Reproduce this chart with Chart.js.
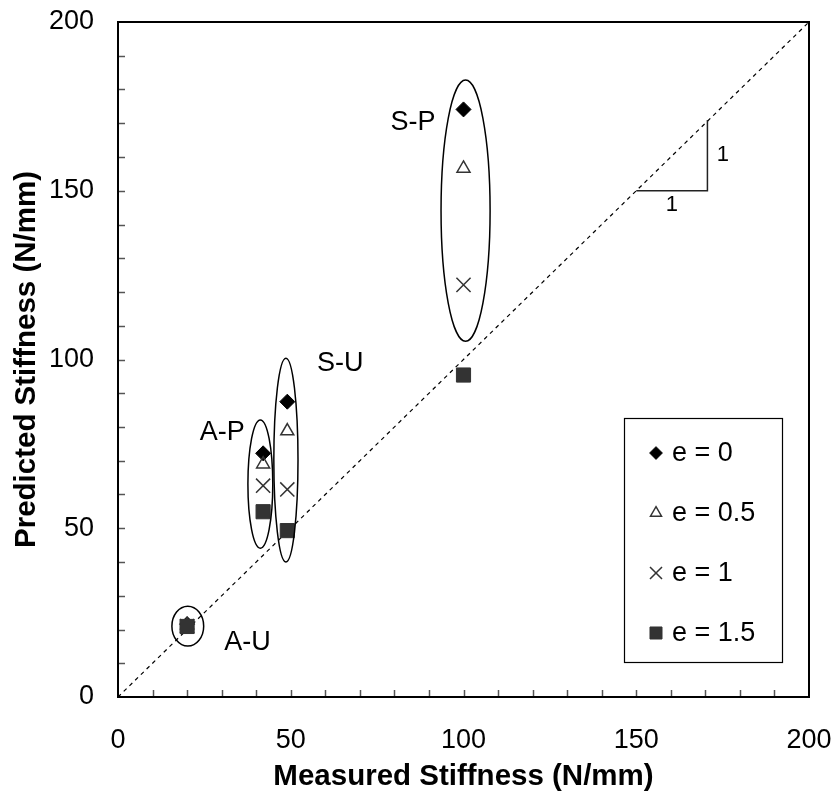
<!DOCTYPE html>
<html>
<head>
<meta charset="utf-8">
<script src="https://cdn.jsdelivr.net/npm/chart.js@4/dist/chart.umd.min.js"></script>
<style>
html,body{margin:0;padding:0;background:#fff;}
#wrap{width:838px;height:799px;position:relative;}
</style>
</head>
<body>
<div id="wrap"><canvas id="c"></canvas></div>
<script>
// ---- data ----
const groups   = ['A-U', 'A-P', 'S-U', 'S-P'];
const measured = [20, 42, 49, 100];
const predE0   = [21.6, 72.2, 87.5, 174.1];
const predE05  = [21.3, 69.0, 78.8, 156.6];
const predE1   = [21.0, 62.6, 61.5, 122.1];
const predE15  = [20.9, 54.9, 49.3, 95.4];
const seriesLabels = ['e = 0', 'e = 0.5', 'e = 1', 'e = 1.5'];
const axisTicks = [0, 50, 100, 150, 200];
const xTitle = 'Measured Stiffness (N/mm)';
const yTitle = 'Predicted Stiffness (N/mm)';
const slopeLabels = ['1', '1'];

const FONT = "'Liberation Sans', Arial, sans-serif";
const pts = arr => measured.map((m, i) => ({x: m, y: arr[i]}));

const styles = [
  {pointStyle: 'rectRot', radius: 7.5, bg: '#000', bc: '#000', bw: 1},
  {pointStyle: 'triangle', radius: 7.5, bg: 'rgba(0,0,0,0)', bc: '#333', bw: 1.5},
  {pointStyle: 'crossRot', radius: 10, bg: 'rgba(0,0,0,0)', bc: '#333', bw: 1.5},
  {pointStyle: 'rect', radius: 10, bg: '#333', bc: '#333', bw: 1}
];
const series = [predE0, predE05, predE1, predE15];

const datasets = series.map((s, i) => ({
  type: 'scatter',
  label: seriesLabels[i],
  data: pts(s),
  pointStyle: styles[i].pointStyle,
  pointRadius: styles[i].radius,
  pointBackgroundColor: styles[i].bg,
  pointBorderColor: styles[i].bc,
  pointBorderWidth: styles[i].bw,
  showLine: false,
  order: 4 - i
}));
datasets.push({
  type: 'line',
  label: '1:1',
  data: [{x: axisTicks[0], y: axisTicks[0]}, {x: axisTicks[axisTicks.length-1], y: axisTicks[axisTicks.length-1]}],
  borderColor: '#000',
  borderWidth: 1.2,
  borderDash: [4, 4],
  pointRadius: 0,
  fill: false,
  order: 10
});

// annotation definitions (data coordinates)
const ellipses = [
  {cx: 20.2, cy: 21.0, rx: 4.6, ry: 5.9},
  {cx: 41.2, cy: 63.1, rx: 3.6, ry: 19.0},
  {cx: 48.6, cy: 70.2, rx: 3.5, ry: 30.2},
  {cx: 100.6, cy: 144.1, rx: 7.1, ry: 38.7}
];
const groupLabelPos = [
  {x: 37.5, y: 16.0},
  {x: 30.2, y: 78.5},
  {x: 64.3, y: 98.7},
  {x: 85.4, y: 170.1}
];

const annot = {
  id: 'annot',
  afterDatasetsDraw(chart) {
    const {ctx, chartArea: a, scales: {x, y}} = chart;
    ctx.save();
    // ellipses
    ctx.strokeStyle = '#000';
    ctx.lineWidth = 1.5;
    ellipses.forEach(e => {
      const px = x.getPixelForValue(e.cx), py = y.getPixelForValue(e.cy);
      const rx = Math.abs(x.getPixelForValue(e.cx + e.rx) - px);
      const ry = Math.abs(y.getPixelForValue(e.cy + e.ry) - py);
      ctx.beginPath();
      ctx.ellipse(px, py, rx, ry, 0, 0, Math.PI * 2);
      ctx.stroke();
    });
    // group labels
    ctx.fillStyle = '#000';
    ctx.font = '27px ' + FONT;
    ctx.textAlign = 'center';
    ctx.textBaseline = 'middle';
    groups.forEach((g, i) => {
      ctx.fillText(g, x.getPixelForValue(groupLabelPos[i].x), y.getPixelForValue(groupLabelPos[i].y));
    });
    // slope triangle
    ctx.strokeStyle = '#222';
    ctx.lineWidth = 1.5;
    ctx.beginPath();
    ctx.moveTo(x.getPixelForValue(150), y.getPixelForValue(150));
    ctx.lineTo(x.getPixelForValue(170.6), y.getPixelForValue(150));
    ctx.lineTo(x.getPixelForValue(170.6), y.getPixelForValue(171));
    ctx.stroke();
    ctx.font = '22px ' + FONT;
    ctx.fillText(slopeLabels[0], x.getPixelForValue(175.1), y.getPixelForValue(160.7));
    ctx.fillText(slopeLabels[1], x.getPixelForValue(160.3), y.getPixelForValue(145.8));

    // frame
    ctx.strokeStyle = '#000';
    ctx.lineWidth = 2;
    ctx.strokeRect(a.left, a.top, a.right - a.left, a.bottom - a.top);
    // inward minor ticks
    ctx.strokeStyle = '#555';
    ctx.lineWidth = 1.5;
    for (let v = 10; v < 200; v += 10) {
      const px = Math.round(x.getPixelForValue(v)) + 0.5;
      ctx.beginPath(); ctx.moveTo(px, a.bottom - 1); ctx.lineTo(px, a.bottom - 7); ctx.stroke();
      const py = Math.round(y.getPixelForValue(v)) + 0.5;
      ctx.beginPath(); ctx.moveTo(a.left + 1, py); ctx.lineTo(a.left + 7, py); ctx.stroke();
    }

    // legend box
    const bx = 624, by = 418, bw = 158, bh = 244;
    ctx.fillStyle = '#fff';
    ctx.fillRect(bx, by, bw, bh);
    ctx.strokeStyle = '#000';
    ctx.lineWidth = 1.2;
    ctx.strokeRect(bx + 0.5, by + 0.5, bw, bh);
    ctx.font = '27px ' + FONT;
    ctx.textAlign = 'left';
    ctx.textBaseline = 'middle';
    seriesLabels.forEach((lab, i) => {
      const cy = by + 35 + i * 60;
      const st = styles[i];
      ctx.fillStyle = st.bg;
      ctx.strokeStyle = st.bc;
      ctx.lineWidth = st.bw;
      Chart.helpers.drawPoint(ctx, {pointStyle: st.pointStyle, radius: st.radius * 0.85, borderWidth: st.bw}, bx + 32, cy);
      ctx.fillStyle = '#000';
      ctx.fillText(lab, bx + 48, cy + 1);
    });
    ctx.restore();
  }
};

new Chart(document.getElementById('c'), {
  data: {datasets},
  options: {
    responsive: true,
    maintainAspectRatio: false,
    animation: false,
    layout: {padding: {top: 22, right: 29, left: 0, bottom: 0}},
    plugins: {legend: {display: false}, tooltip: {enabled: false}},
    scales: {
      x: {
        type: 'linear', min: 0, max: 200,
        afterFit: s => { s.height = 102; s.paddingLeft = 0; s.paddingRight = 0; },
        afterBuildTicks: s => { s.ticks = axisTicks.map(v => ({value: v})); },
        grid: {display: false},
        border: {display: false},
        ticks: {color: '#000', font: {family: FONT, size: 27}, padding: 19, maxRotation: 0},
        title: {display: true, text: xTitle, color: '#000', font: {family: FONT, size: 29.5, weight: 'bold'}, padding: {top: 0, bottom: 4.6}}
      },
      y: {
        type: 'linear', min: 0, max: 200,
        afterFit: s => { s.width = 118; s.paddingTop = 0; s.paddingBottom = 0; },
        afterBuildTicks: s => { s.ticks = axisTicks.map(v => ({value: v})); },
        grid: {display: false},
        border: {display: false},
        ticks: {color: '#000', font: {family: FONT, size: 27}, padding: 16},
        title: {display: true, text: yTitle, color: '#000', font: {family: FONT, size: 29.5, weight: 'bold'}, padding: {top: 9.6, bottom: 0}}
      }
    }
  },
  plugins: [annot]
});
</script>
</body>
</html>
